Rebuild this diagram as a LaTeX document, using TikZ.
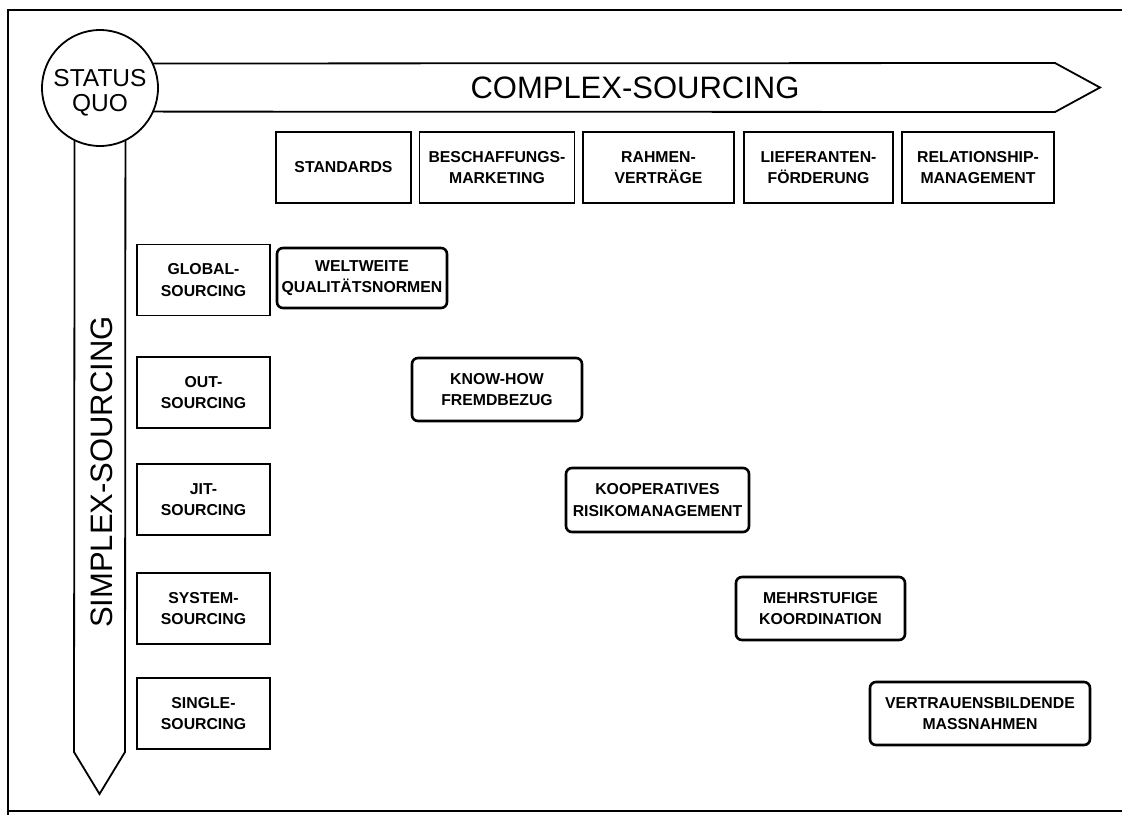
\documentclass[tikz,border=0pt]{standalone}
\usepackage{fontspec}
\setmainfont{Liberation Sans}

\begin{document}
\begin{tikzpicture}[x=1pt, y=-1pt,
    frame/.style={line width=1.6pt},
    band/.style={line width=1.8pt, line join=miter},
    colbox/.style={draw, line width=1.5pt, align=center, inner sep=1pt,
        minimum height=71pt, font=\fontsize{15.8}{21.7}\selectfont\bfseries},
    stepbox/.style={draw, line width=2.6pt, rounded corners=6pt, align=center,
        inner sep=1pt, font=\fontsize{15.8}{21.7}\selectfont\bfseries}]
    \useasboundingbox (0,0) rectangle (1122,815);
    % frame, open to the right
    \draw[frame] (1122,10) -| (8,815);
    \draw[frame] (8,811) -- (1122,811);

    % status quo with the two bands
    \node[circle, draw, line width=1.8pt, minimum size=116pt, inner sep=0pt,
          outer sep=0pt] (sq) at (100,88) {};
    \node[align=center, inner sep=0pt, font=\fontsize{24.5}{25.5}\selectfont]
          (sqt) at (100,93) {STATUS\\QUO};
    \draw[band] (sq.25.5) -- (1055,63) -- (1100,87.5) -- (1055,112) -- (sq.-24.4);
    \draw[band] (sq.-116.6) -- (74,752) -- (99.5,794) -- (125,752) -- (sq.-64.5);
    \node[font=\fontsize{31}{31}\selectfont] (cx) at (635,88) {COMPLEX-SOURCING};
    \node[font=\fontsize{31}{31}\selectfont, rotate=90] (sx) at (101.5,472) {SIMPLEX-SOURCING};

    % columns: 5 boxes (top)
    \foreach \i/\x/\w/\t in {1/343.5/135/STANDARDS,
        2/497/155/{BESCHAFFUNGS-\\MARKETING},
        3/658.5/151/{RAHMEN-\\VERTRÄGE},
        4/818.5/149/{LIEFERANTEN-\\FÖRDERUNG},
        5/978/152/{RELATIONSHIP-\\MANAGEMENT}}
        \node[colbox, minimum width=\w pt] (c\i) at (\x,167.5) {\t};

    % rows: 5 boxes (left)
    \foreach \i/\y/\t in {1/280/GLOBAL-, 2/392.5/OUT-, 3/499.5/JIT-,
        4/608.5/SYSTEM-, 5/713.5/SINGLE-}
        \node[colbox, minimum width=133pt] (r\i) at (203.5,\y) {\t\\SOURCING};

    % measures on the diagonal
    \foreach \i/\x/\y/\w/\h/\t in {1/362/278/170/60/{WELTWEITE\\QUALITÄTSNORMEN},
        2/497/389.5/170/63/{KNOW-HOW\\FREMDBEZUG},
        3/657.5/500/183/64/{KOOPERATIVES\\RISIKOMANAGEMENT},
        4/820.5/608.5/169/63/{MEHRSTUFIGE\\KOORDINATION},
        5/980/713.5/220/63/{VERTRAUENSBILDENDE\\MASSNAHMEN}}
        \node[stepbox, minimum width=\w pt, minimum height=\h pt] (m\i) at (\x,\y) {\t};
\end{tikzpicture}
\end{document}
